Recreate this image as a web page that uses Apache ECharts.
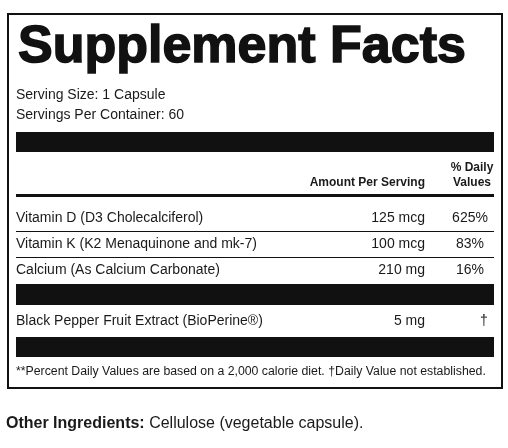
<!DOCTYPE html>
<html><head><meta charset="utf-8">
<script src="https://cdn.jsdelivr.net/npm/echarts@6/dist/echarts.min.js"></script>
<style>html,body{margin:0;padding:0;background:#fff}#c{width:508px;height:448px}</style>
</head><body><div id="c"></div>
<script>
const title = "Supplement Facts";
const servingLines = ["Serving Size: 1 Capsule", "Servings Per Container: 60"];
const headerAmount = "Amount Per Serving";
const headerDV = ["% Daily", "Values"];
const nutrients = ["Vitamin D (D3 Cholecalciferol)", "Vitamin K (K2 Menaquinone and mk-7)", "Calcium (As Calcium Carbonate)"];
const amounts = ["125 mcg", "100 mcg", "210 mg"];
const dailyValues = ["625%", "83%", "16%"];
const otherNames = ["Black Pepper Fruit Extract (BioPerine®)"];
const otherAmounts = ["5 mg"];
const otherDV = ["†"];
const footnote = "**Percent Daily Values are based on a 2,000 calorie diet. †Daily Value not established.";
const otherIngLabel = "Other Ingredients:";
const otherIngText = " Cellulose (vegetable capsule).";

const F = "Liberation Sans, Arial, sans-serif";
const L = 16, R = 494, AX = 425, DX = 470;
const g = [];
function txt(x, y, s, o) { g.push({type:'text', x, y, style:Object.assign({text:s, fill:'#1a1a1a', font:'14px '+F, textVerticalAlign:'middle'}, o||{})}); }
function rect(x, y, w, h) { g.push({type:'rect', shape:{x, y, width:w, height:h}, style:{fill:'#111'}}); }

g.push({type:'rect', shape:{x:8, y:14, width:494, height:374}, style:{fill:'none', stroke:'#111', lineWidth:2}});
txt(18, 48, title, {font:'bold 52px '+F, fill:'#111', stroke:'#111', lineWidth:1.5});
servingLines.forEach((s,i)=>txt(L, 95+i*20, s));
rect(L, 132, R-L, 20);
txt(AX, 183, headerAmount, {font:'bold 12px '+F, textAlign:'right'});
headerDV.forEach((s,i)=>txt(DX+2, 168+i*15, s, {font:'bold 12px '+F, textAlign:'center'}));
rect(L, 194, R-L, 3);
nutrients.forEach((n,i)=>{
  const y = 218 + i*26;
  txt(L, y, n);
  txt(AX, y, amounts[i], {textAlign:'right'});
  txt(DX, y, dailyValues[i], {textAlign:'center'});
  if (i < nutrients.length-1) rect(L, y+13, R-L, 1);
});
rect(L, 284, R-L, 21);
otherNames.forEach((n,i)=>{
  const y = 321 + i*26;
  txt(L, y, n);
  txt(AX, y, otherAmounts[i], {textAlign:'right'});
  txt(DX+14, y, otherDV[i], {textAlign:'center'});
});
rect(L, 337, R-L, 20);
txt(L, 372, footnote, {font:'12.3px '+F});
g.push({type:'text', x:6, y:424, style:{rich:{b:{font:'bold 16px '+F, fill:'#1a1a1a'}, n:{font:'16px '+F, fill:'#1a1a1a'}}, text:'{b|'+otherIngLabel+'}{n|'+otherIngText+'}', textVerticalAlign:'middle'}});

const chart = echarts.init(document.getElementById('c'));
chart.setOption({animation:false, graphic:{elements:g}});
</script></body></html>
